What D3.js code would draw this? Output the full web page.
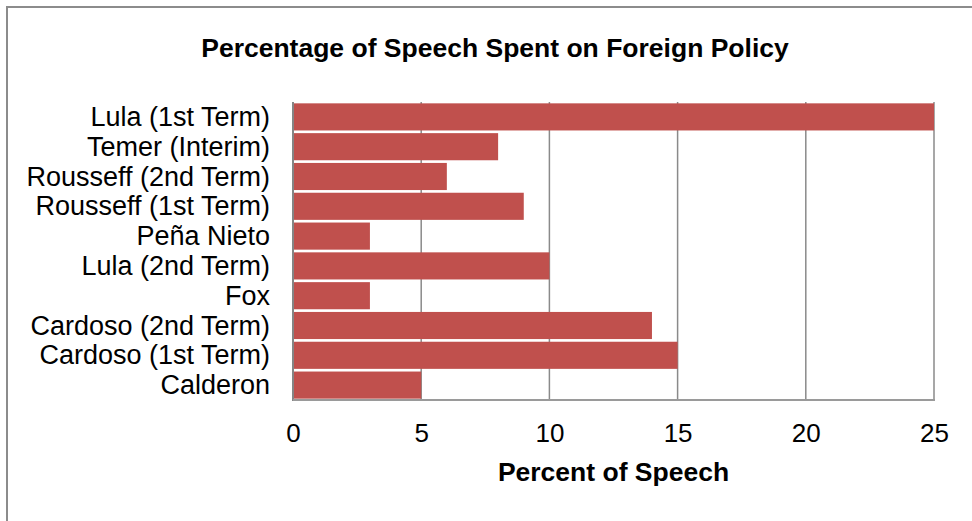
<!DOCTYPE html>
<html>
<head>
<meta charset="utf-8">
<script src="https://cdn.jsdelivr.net/npm/d3@7"></script>
<style>
  html, body { margin: 0; padding: 0; background: #fff; }
  svg { display: block; font-family: "Liberation Sans", Arial, sans-serif; }
</style>
</head>
<body>
<svg id="chart" width="972" height="521"></svg>
<script>
// Presidents, listed top to bottom as drawn
const categories = [
  "Lula (1st Term)",
  "Temer (Interim)",
  "Rousseff (2nd Term)",
  "Rousseff (1st Term)",
  "Peña Nieto",
  "Lula (2nd Term)",
  "Fox",
  "Cardoso (2nd Term)",
  "Cardoso (1st Term)",
  "Calderon"
];
// Percent of speech spent on foreign policy
const values = [25, 8, 6, 9, 3, 10, 3, 14, 15, 5];
const xTicks = [0, 5, 10, 15, 20, 25];

const titleText = "Percentage of Speech Spent on Foreign Policy";
const xAxisTitle = "Percent of Speech";

const svg = d3.select("#chart");

// Outer chart frame (runs off the right and bottom edges)
svg.append("rect")
  .attr("x", 7).attr("y", 7)
  .attr("width", 980).attr("height", 530)
  .attr("fill", "none")
  .attr("stroke", "#8c8c8c")
  .attr("stroke-width", 2);

const plot = { left: 293, right: 934, top: 102, bottom: 400 };

const x = d3.scaleLinear().domain([0, 25]).range([plot.left, plot.right]);
const y = d3.scaleBand()
  .domain(categories)
  .range([plot.top, plot.bottom])
  .paddingInner(0.09)
  .paddingOuter(0.045);

// Vertical gridlines
svg.append("g")
  .selectAll("line")
  .data(xTicks.filter(d => d > 0))
  .join("line")
  .attr("x1", d => x(d)).attr("x2", d => x(d))
  .attr("y1", plot.top).attr("y2", plot.bottom)
  .attr("stroke", "#8a8a8a")
  .attr("stroke-width", 1.5);

// Bars
svg.append("g")
  .selectAll("rect")
  .data(categories.map((c, i) => ({ c, v: values[i] })))
  .join("rect")
  .attr("x", x(0))
  .attr("y", d => y(d.c))
  .attr("width", d => x(d.v) - x(0))
  .attr("height", y.bandwidth())
  .attr("fill", "#C0504D");

// Category axis line and bottom axis line
svg.append("line")
  .attr("x1", plot.left).attr("x2", plot.left)
  .attr("y1", plot.top).attr("y2", plot.bottom + 1)
  .attr("stroke", "#858585").attr("stroke-width", 2);
svg.append("line")
  .attr("x1", plot.left).attr("x2", plot.right + 1)
  .attr("y1", plot.bottom).attr("y2", plot.bottom)
  .attr("stroke", "#9a9a9a").attr("stroke-width", 2);

// Category labels
const yAxis = d3.axisLeft(y).tickSize(0).tickPadding(23);
const gy = svg.append("g")
  .attr("transform", `translate(${plot.left},0)`)
  .call(yAxis);
gy.select(".domain").remove();
gy.selectAll("text")
  .attr("font-size", 27)
  .attr("dy", "0.34em")
  .attr("fill", "#000")
  .style("font-family", "'Liberation Sans', Arial, sans-serif");

// Value axis labels
const xAxis = d3.axisBottom(x).tickValues(xTicks).tickSize(0).tickPadding(24);
const gx = svg.append("g")
  .attr("transform", `translate(0,${plot.bottom})`)
  .call(xAxis);
gx.select(".domain").remove();
gx.selectAll("text")
  .attr("font-size", 26)
  .attr("fill", "#000")
  .style("font-family", "'Liberation Sans', Arial, sans-serif");

// Titles
svg.append("text")
  .attr("x", 495).attr("y", 57)
  .attr("text-anchor", "middle")
  .attr("font-size", 26.5)
  .attr("font-weight", "bold")
  .text(titleText);

svg.append("text")
  .attr("x", (plot.left + plot.right) / 2).attr("y", 481)
  .attr("text-anchor", "middle")
  .attr("font-size", 26.5)
  .attr("font-weight", "bold")
  .text(xAxisTitle);
</script>
</body>
</html>
